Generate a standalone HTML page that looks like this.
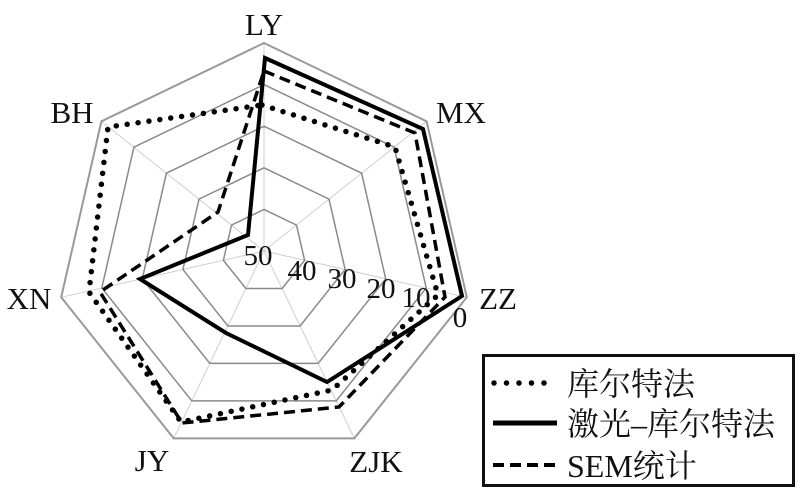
<!DOCTYPE html>
<html><head><meta charset="utf-8"><style>
html,body{margin:0;padding:0;background:#fff;}
svg{display:block;}
text{font-family:"Liberation Serif","Noto Serif CJK SC",serif;fill:#111;}
</style></head><body>
<svg width="805" height="498" viewBox="0 0 805 498" xmlns="http://www.w3.org/2000/svg">
<g fill="none">
<g stroke="#cfcfcf" stroke-width="1">
<line x1="264" y1="251" x2="264" y2="43"/>
<line x1="264" y1="251" x2="426.6" y2="121.3"/>
<line x1="264" y1="251" x2="466.8" y2="297.3"/>
<line x1="264" y1="251" x2="354.3" y2="438.4"/>
<line x1="264" y1="251" x2="173.7" y2="438.4"/>
<line x1="264" y1="251" x2="61.2" y2="297.3"/>
<line x1="264" y1="251" x2="101.4" y2="121.3"/>
</g>
<g stroke="#8a8a8a" stroke-width="1.5">
<polygon points="264,84.6 394.1,147.2 426.2,288 336.2,400.9 191.8,400.9 101.8,288 133.9,147.2"/>
<polygon points="264,126.2 361.6,173.2 385.7,278.8 318.2,363.4 209.8,363.4 142.3,278.8 166.4,173.2"/>
<polygon points="264,167.8 329,199.1 345.1,269.5 300.1,326 227.9,326 182.9,269.5 199,199.1"/>
<polygon points="264,209.4 296.5,225.1 304.6,260.3 282.1,288.5 245.9,288.5 223.4,260.3 231.5,225.1"/>
</g>
<polygon stroke="#999" stroke-width="2" points="264,43 426.6,121.3 466.8,297.3 354.3,438.4 173.7,438.4 61.2,297.3 101.4,121.3"/>
<polygon stroke="#000" stroke-width="5.5" stroke-linecap="round" stroke-dasharray="0 11" points="262,105 395,147 438,295 332,390 181,422 89,292 108,127"/>
<polygon stroke="#000" stroke-width="3.5" stroke-dasharray="11 6" points="264,71 415,133 445,297 339,407 182,423 100,292 218,212"/>
<polygon stroke="#000" stroke-width="4" stroke-linejoin="miter" points="265,58 423,129 462,296 327,382 226,333 140,279 248,235"/>
</g>
<g font-size="31" text-anchor="middle">
<text x="264" y="35">LY</text>
<text x="461" y="123">MX</text>
<text x="498" y="309">ZZ</text>
<text x="376" y="472">ZJK</text>
<text x="152" y="471">JY</text>
<text x="29" y="309">XN</text>
<text x="72" y="123">BH</text>
</g>
<g font-size="29" text-anchor="middle">
<text x="258" y="265">50</text>
<text x="302" y="280">40</text>
<text x="342" y="288">30</text>
<text x="381" y="298">20</text>
<text x="416" y="307">10</text>
<text x="460" y="327">0</text>
</g>
<rect x="483.5" y="355.5" width="310" height="130" fill="#fff" stroke="#111" stroke-width="3"/>
<line x1="494" y1="383" x2="556" y2="383" stroke="#000" stroke-width="5.5" stroke-linecap="round" stroke-dasharray="0 12.5"/>
<line x1="493" y1="423" x2="557" y2="423" stroke="#000" stroke-width="5"/>
<line x1="493" y1="465" x2="557" y2="465" stroke="#000" stroke-width="4" stroke-dasharray="11 6"/>
<g font-size="32">
<text x="567" y="395">库尔特法</text>
<text x="567" y="435">激光–库尔特法</text>
<text x="567" y="477">SEM统计</text>
</g>
</svg>
</body></html>
